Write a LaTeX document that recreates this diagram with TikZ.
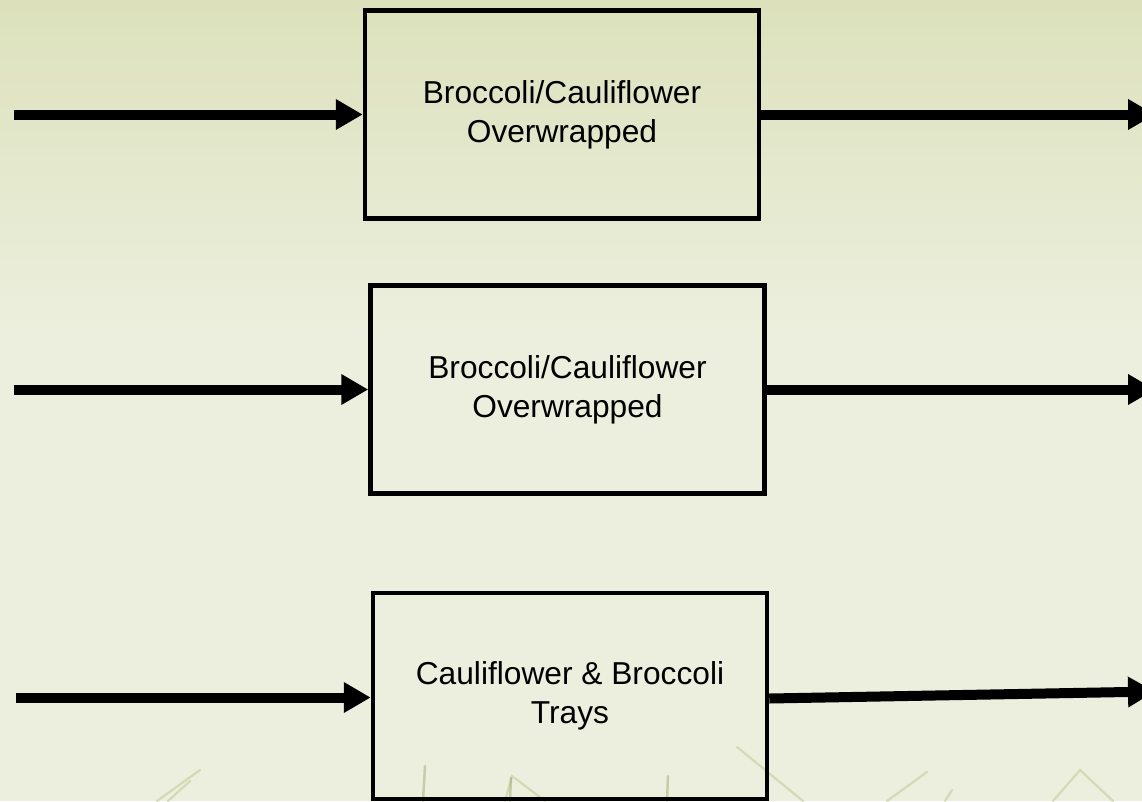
\documentclass[tikz,border=0pt]{standalone}
\usepackage{fontspec}
\setmainfont{Liberation Sans}
\usetikzlibrary{arrows.meta}
\definecolor{bgtop}{RGB}{220,225,188}
\definecolor{bgmain}{RGB}{236,239,221}
\definecolor{grass}{RGB}{175,188,120}
\definecolor{grassdark}{RGB}{120,145,60}
\tikzset{
  flowbox/.style={draw=black, line width=4.5pt, minimum width=394pt, minimum height=208pt,
    align=center, inner sep=0pt, font=\fontsize{31.7}{39}\selectfont},
  flowarrow/.style={draw=black, line width=10pt, -{Triangle[length=27pt,width=29pt]}},
  blade/.style={draw=grass, line width=2.2pt, opacity=0.4, line cap=round},
  darkblade/.style={draw=grassdark, line width=2.5pt, opacity=0.35, line cap=round}
}
\begin{document}
\begin{tikzpicture}[x=1pt,y=-1pt]
\useasboundingbox (0,0) rectangle (1142,801);
\clip (0,0) rectangle (1142,801);
% background
\fill[bgmain] (0,0) rectangle (1142,801);
\shade[top color=bgtop, bottom color=bgmain] (0,0) rectangle (1142,330);
% faint grass
\draw[blade] (157,801) -- (200,770);
\draw[blade] (168,801) -- (190,781);
\draw[darkblade] (423,801) -- (425,766);
\draw[blade] (505,801) -- (512,776) -- (545,801);
\draw[darkblade] (510,801) -- (511,778);
\draw[darkblade] (667,801) -- (668,776);
\draw[blade] (737,747) -- (803,801);
\draw[blade] (887,801) -- (927,772);
\draw[blade] (945,801) -- (952,790);
\draw[blade] (1053,801) -- (1080,770) -- (1113,801);
% boxes
\node[flowbox] (b1) at (562,114.5) {Broccoli/Cauliflower\\Overwrapped};
\node[flowbox] (b2) at (567.5,389.5) {Broccoli/Cauliflower\\Overwrapped};
\node[flowbox, minimum height=206pt] (b3) at (570,696) {Cauliflower \& Broccoli\\Trays};
% arrow ends
\coordinate (i1) at (14,114.5);
\coordinate (o1) at (1155,114.5);
\coordinate (i2) at (14,389.5);
\coordinate (o2) at (1155,389.5);
\coordinate (i3) at (16,697.5);
\coordinate (o3) at (1155,691.5);
% connectors
\draw[flowarrow] (i1) -- (b1.west);
\draw[flowarrow] (b1.east) -- (o1);
\draw[flowarrow] (i2) -- (b2.west);
\draw[flowarrow] (b2.east) -- (o2);
\draw[flowarrow] (i3) -- (b3.west |- i3);
\draw[flowarrow] (b3.east |- 0,698.5) -- (o3);
\end{tikzpicture}
\end{document}
